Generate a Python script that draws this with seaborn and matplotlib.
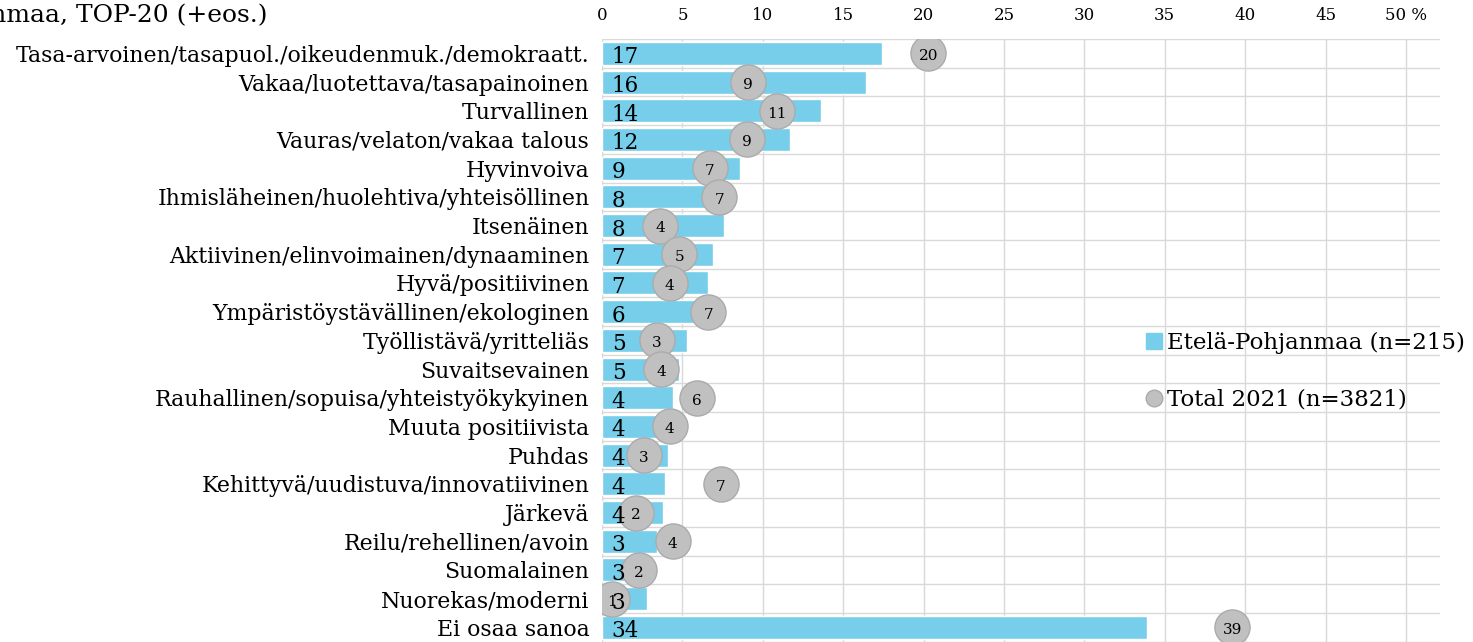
import matplotlib
matplotlib.use("Agg")
import matplotlib.pyplot as plt
import seaborn as sns
import pandas as pd
import numpy as np
from matplotlib.lines import Line2D

categories = [
    "Tasa-arvoinen/tasapuol./oikeudenmuk./demokraatt.",
    "Vakaa/luotettava/tasapainoinen",
    "Turvallinen",
    "Vauras/velaton/vakaa talous",
    "Hyvinvoiva",
    "Ihmisläheinen/huolehtiva/yhteisöllinen",
    "Itsenäinen",
    "Aktiivinen/elinvoimainen/dynaaminen",
    "Hyvä/positiivinen",
    "Ympäristöystävällinen/ekologinen",
    "Työllistävä/yritteliäs",
    "Suvaitsevainen",
    "Rauhallinen/sopuisa/yhteistyökykyinen",
    "Muuta positiivista",
    "Puhdas",
    "Kehittyvä/uudistuva/innovatiivinen",
    "Järkevä",
    "Reilu/rehellinen/avoin",
    "Suomalainen",
    "Nuorekas/moderni",
    "Ei osaa sanoa",
]
etela_pohjanmaa = [17.4, 16.4, 13.6, 11.7, 8.6, 8.1, 7.6, 6.9, 6.6, 6.1, 5.3, 4.8,
                   4.4, 4.4, 4.1, 3.9, 3.8, 3.4, 2.9, 2.8, 33.9]
total_2021 = [20.3, 9.1, 10.9, 9.0, 6.7, 7.3, 3.6, 4.8, 4.2, 6.6, 3.4, 3.7,
              5.9, 4.2, 2.6, 7.4, 2.1, 4.4, 2.3, 0.6, 39.2]
xticks = [0, 5, 10, 15, 20, 25, 30, 35, 40, 45, 50]
xtick_labels = ["0", "5", "10", "15", "20", "25", "30", "35", "40", "45", "50 %"]
legend_labels = ["Etelä-Pohjanmaa (n=215)", "Total 2021 (n=3821)"]
title = "Etelä-Pohjanmaa, TOP-20 (+eos.)"

BAR = "#76CEEA"
DOT = "#C0C0C0"
DOT_EDGE = "#ABABAB"
GRID = "#D9D9D9"

sns.set_theme(style="white")
plt.rcParams["font.family"] = ["DejaVu Serif"]
plt.rcParams["text.color"] = "black"
plt.rcParams["xtick.color"] = "black"
plt.rcParams["ytick.color"] = "black"

df = pd.DataFrame({"cat": categories, "ep": etela_pohjanmaa, "tot": total_2021})

W, H = 1473, 642
fig = plt.figure(figsize=(W / 100, H / 100), dpi=100)
x0, x1 = 602, 1440
y_top = 39
row_h = 28.7
y_bot = y_top + row_h * len(categories)
ax = fig.add_axes([x0 / W, 1 - y_bot / H, (x1 - x0) / W, (y_bot - y_top) / H])

sns.barplot(data=df, y="cat", x="ep", color=BAR, width=0.8, ax=ax,
            orient="h", saturation=1, zorder=2)
sns.scatterplot(data=df, y="cat", x="tot", ax=ax, s=640, color=DOT,
                edgecolor=DOT_EDGE, linewidth=1.0, zorder=3)

xmax = (x1 - x0) / ((1406 - 602) / 50)
ax.set_xlim(0, xmax)
ax.set_ylim(len(categories) - 0.5, -0.5)

ax.set_xticks(xticks)
ax.set_xticklabels(xtick_labels)
ax.xaxis.tick_top()
ax.tick_params(axis="x", length=0, pad=11, labelsize=12, labelcolor="black")
ax.tick_params(axis="y", length=0, pad=9, labelsize=15.8, labelcolor="black")
ax.set_xlabel("")
ax.set_ylabel("")

ax.set_yticks(np.arange(len(categories)), labels=categories)
ax.set_yticks(np.arange(len(categories) + 1) - 0.5, minor=True)
ax.grid(True, axis="x", which="major", color=GRID, linewidth=1, zorder=0)
ax.grid(True, axis="y", which="minor", color=GRID, linewidth=1, zorder=0)
ax.grid(False, axis="y", which="major")
for s in ax.spines.values():
    s.set_visible(False)
ax.axvline(0, color=GRID, linewidth=1, zorder=1)

for i, (v, t) in enumerate(zip(etela_pohjanmaa, total_2021)):
    ax.text(0.6, i + 0.14, f"{v:.0f}", va="center", ha="left", fontsize=15.5,
            color="black", zorder=4)
    ax.text(t, i + 0.1, f"{t:.0f}", va="center", ha="center", fontsize=11,
            color="black", zorder=5)

handles = [
    Line2D([0], [0], marker="s", linestyle="none", markersize=11,
           markerfacecolor=BAR, markeredgecolor=BAR),
    Line2D([0], [0], marker="o", linestyle="none", markersize=12,
           markerfacecolor=DOT, markeredgecolor=DOT_EDGE),
]
leg = fig.legend(handles, legend_labels, loc="upper left",
                 bbox_to_anchor=(1133 / W, 1 - 323 / H), frameon=False,
                 fontsize=16.5, handletextpad=0.1, labelspacing=1.5,
                 handlelength=1.0, borderaxespad=0)

fig.text(268 / W, 1 - 15 / H, title, ha="right", va="center", fontsize=18)

fig.savefig("out.png", dpi=100)
